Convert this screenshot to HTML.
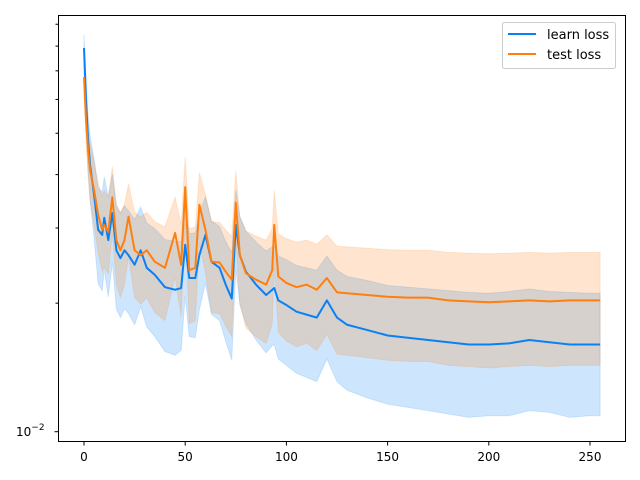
<!DOCTYPE html>
<html><head><meta charset="utf-8"><style>
body{margin:0;background:#fff}
svg{display:block;font-family:"DejaVu Sans","Liberation Sans",sans-serif}
</style></head><body>
<svg id="chart" width="640" height="480" xmlns="http://www.w3.org/2000/svg">
<rect x="0" y="0" width="640" height="480" fill="#fff"/>
<g id="plot"></g>
<rect x="58.5" y="15.5" width="567" height="426" fill="none" stroke="#000" stroke-width="1"/>
<g id="axes"></g>
<g>
<rect x="502.5" y="22.5" width="113" height="46" rx="2" fill="#fff" fill-opacity="0.8" stroke="#ccc"/>
<line x1="508" y1="34" x2="536" y2="34" stroke="#0a80f5" stroke-width="2"/>
<text x="547" y="39" font-size="13">learn loss</text>
<line x1="508" y1="54" x2="536" y2="54" stroke="#ff7f0e" stroke-width="2"/>
<text x="547" y="59" font-size="13">test loss</text>
</g>
</svg>
<script>
const epochs=[0,1,2,3,5,7,9,10,12,14,16,18,20,22,25,28,31,35,40,45,48,50,52,55,57,60,63,67,70,73,75,77,80,85,90,93,94,96,100,105,110,115,120,125,130,140,150,160,170,180,190,200,210,220,230,240,250,255];
const learnLoss=[.0792,.0598,.0482,.0421,.0358,.0297,.0289,.0317,.0281,.0325,.0266,.0255,.0266,.0259,.0246,.0266,.0242,.0233,.0218,.0215,.0217,.0274,.0229,.0229,.0259,.0289,.0250,.0242,.0221,.0205,.0305,.0259,.0237,.0221,.0209,.0215,.0217,.0203,.0198,.0191,.0188,.0185,.0203,.0185,.0178,.0173,.0168,.0166,.0164,.0162,.0160,.0160,.0161,.0164,.0162,.0160,.0160,.0160];
const testLoss=[.0677,.0538,.0457,.0410,.0367,.0322,.0297,.0305,.0294,.0354,.0281,.0266,.0281,.0319,.0266,.0259,.0266,.0250,.0242,.0292,.0246,.0374,.0239,.0242,.0340,.0297,.0250,.0249,.0237,.0227,.0344,.0259,.0235,.0227,.0221,.0239,.0305,.0231,.0223,.0218,.0221,.0215,.0229,.0212,.0211,.0209,.0207,.0206,.0206,.0203,.0202,.0201,.0202,.0203,.0202,.0203,.0203,.0203];
const learnStd=[.006,.007,.0072,.0072,.0075,.0075,.0075,.0078,.0074,.0076,.0072,.007,.0072,.007,.0068,.007,.0066,.0066,.0064,.0064,.0062,.0066,.0062,.0063,.0066,.0066,.0062,.006,.0058,.0058,.0064,.006,.0058,.0057,.0056,.0056,.0057,.0055,.0055,.0054,.0054,.0054,.0055,.0054,.0053,.0053,.0052,.0052,.0052,.0052,.0052,.0051,.0052,.0052,.0051,.0052,.0051,.0051];
const testStd=[.006,.006,.006,.0062,.0062,.006,.006,.0062,.006,.0064,.006,.006,.006,.0062,.006,.006,.006,.006,.006,.0062,.006,.0066,.006,.006,.0064,.0062,.006,.006,.006,.006,.0064,.006,.006,.006,.006,.006,.0062,.006,.006,.006,.006,.006,.006,.006,.006,.006,.006,.006,.006,.006,.006,.006,.006,.006,.006,.006,.006,.006];
const xTicks=[0,50,100,150,200,250];
const NS="http://www.w3.org/2000/svg";
const X=v=>84+v*2.024;
const Y=v=>431.7-427*Math.log10(v/0.01);
const plot=document.getElementById('plot'),axes=document.getElementById('axes');
function mk(t,a,p){const e=document.createElementNS(NS,t);for(const k in a)e.setAttribute(k,a[k]);p.appendChild(e);return e;}
function band(mean,std,color,name){
  const up=epochs.map((x,i)=>X(x)+','+Y(mean[i]+std[i]));
  const lo=epochs.map((x,i)=>X(x)+','+Y(Math.max(mean[i]-std[i],1e-4))).reverse();
  const p=mk('polygon',{points:up.concat(lo).join(' '),fill:color,'fill-opacity':0.2,stroke:color,'stroke-opacity':0.15},plot);
  
  
}
function line(mean,color,name){
  const p=mk('polyline',{points:epochs.map((x,i)=>X(x)+','+Y(mean[i])).join(' '),fill:'none',stroke:color,'stroke-width':2,'stroke-linejoin':'round'},plot);
  
  
}
band(learnLoss,learnStd,'#0a80f5','learn-loss-band');
band(testLoss,testStd,'#ff7f0e','test-loss-band');
line(learnLoss,'#0a80f5','learn-loss-line');
line(testLoss,'#ff7f0e','test-loss-line');
xTicks.forEach(t=>{
  const l=mk('line',{x1:X(t),x2:X(t),y1:441.5,y2:445.5,stroke:'#000'},axes);
  
  
  const tx=mk('text',{x:X(t),y:461,'font-size':12,'text-anchor':'middle'},axes);
  tx.textContent=t;
  
  
});
[2,3,4,5,6,7,8,9].forEach(m=>{
  const l=mk('line',{x1:55.5,x2:58.5,y1:Y(m*0.01),y2:Y(m*0.01),stroke:'#000'},axes);
  
  
});
const yt=mk('line',{x1:54.5,x2:58.5,y1:431.7,y2:431.7,stroke:'#000'},axes);


const yl=mk('text',{x:16,y:436,'font-size':12},axes);


yl.innerHTML='10<tspan dy="-6" font-size="9">−2</tspan>';
</script>
</body></html>
